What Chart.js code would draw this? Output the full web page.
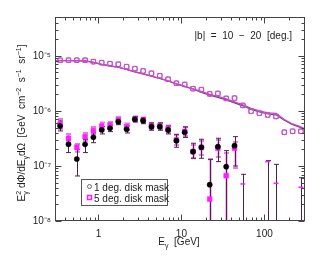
<!DOCTYPE html>
<html><head><meta charset="utf-8">
<script src="https://cdn.jsdelivr.net/npm/chart.js@4/dist/chart.umd.min.js"></script>
<style>html,body{margin:0;padding:0;background:#fff}canvas{display:block}</style>
</head><body>
<canvas id="c" width="321" height="257"></canvas>
<script>
// ---- data ----
const energies = [0.346, 0.436, 0.549, 0.691, 0.870, 1.095, 1.379, 1.736, 2.185, 2.75, 3.46, 4.36, 5.49, 6.91, 8.70, 10.95, 13.8, 17.4, 21.9, 27.5, 34.6, 43.6, 54.9, 69.1, 87.0, 109.5, 137.9, 173.6, 218.5, 275];
// total emission (upper points)
const total1deg = [8.35e-6, 8.35e-6, 8.35e-6, 8.35e-6, 7.87e-6, 7.55e-6, 7.24e-6, 7.06e-6, 6.38e-6, 5.87e-6, 5.33e-6, 4.84e-6, 4.36e-6, 3.77e-6, 3.19e-6, 3.03e-6, 2.54e-6, 2.44e-6, 2.04e-6, 2.08e-6, 1.69e-6, 1.71e-6, 1.26e-6, 9.91e-7, 9.08e-7, 8.45e-7, 7.94e-7, 4.10e-7, 4.27e-7, 4.27e-7];
const total5deg = [8.35e-6, 8.35e-6, 8.35e-6, 8.35e-6, 7.87e-6, 7.55e-6, 7.24e-6, 7.06e-6, 6.38e-6, 5.87e-6, 5.33e-6, 4.84e-6, 4.36e-6, 3.77e-6, 3.19e-6, 3.03e-6, 2.54e-6, 2.44e-6, 2.04e-6, 2.08e-6, 1.69e-6, 1.71e-6, 1.26e-6, 9.91e-7, 9.08e-7, 8.45e-7, 7.94e-7, 4.10e-7, 4.27e-7, 4.27e-7];
// model curves
const modelEnergies = [0.307, 0.346, 0.436, 0.549, 0.691, 0.870, 1.095, 1.379, 1.736, 2.185, 2.75, 3.46, 4.36, 5.49, 6.91, 8.70, 10.95, 13.8, 17.4, 21.9, 27.5, 34.6, 43.6, 54.9, 69.1, 87.0, 109.5, 137.9, 173.6, 218.5, 275, 308];
const modelMagenta = [8.22e-6, 8.22e-6, 8.22e-6, 8.18e-6, 8.11e-6, 7.62e-6, 7.0e-6, 6.58e-6, 6.23e-6, 5.69e-6, 5.12e-6, 4.71e-6, 4.28e-6, 3.90e-6, 3.51e-6, 3.10e-6, 2.79e-6, 2.51e-6, 2.26e-6, 2.01e-6, 1.84e-6, 1.65e-6, 1.46e-6, 1.29e-6, 1.11e-6, 1.0e-6, 9.2e-7, 9.0e-7, 7.0e-7, 5.8e-7, 5.12e-7, 4.71e-7];
const modelDark = [8.22e-6, 8.22e-6, 8.22e-6, 8.18e-6, 8.11e-6, 7.62e-6, 7.0e-6, 6.58e-6, 6.23e-6, 5.69e-6, 5.12e-6, 4.71e-6, 4.28e-6, 3.90e-6, 3.51e-6, 3.10e-6, 2.79e-6, 2.51e-6, 2.18e-6, 1.94e-6, 1.77e-6, 1.59e-6, 1.40e-6, 1.24e-6, 1.07e-6, 9.6e-7, 8.8e-7, 8.5e-7, 6.8e-7, 5.6e-7, 4.95e-7, 4.55e-7];
// residual emission, 1 deg. disk mask (black)
const resid1 = [5.33e-7, 2.48e-7, 1.34e-7, 2.48e-7, 3.33e-7, 4.52e-7, 4.85e-7, 6.38e-7, 4.65e-7, 7.06e-7, 6.67e-7, 5.19e-7, 5.19e-7, 4.52e-7, 2.88e-7, 4.10e-7, 1.82e-7, 2.19e-7, 4.57e-8, 2.24e-7, 9.71e-8, 2.34e-7, null, null, null, null, null, null, null, null];
const resid1Hi = [6.58e-7, 2.97e-7, 2.01e-7, 3.06e-7, 4.03e-7, 5.19e-7, 5.56e-7, 7.16e-7, 5.33e-7, 7.94e-7, 7.55e-7, 6.05e-7, 6.05e-7, 5.33e-7, 3.77e-7, 5.12e-7, 2.59e-7, 3.06e-7, 1.32e-7, 3.19e-7, 1.90e-7, 3.41e-7, 7.06e-8, null, null, 1.25e-7, 1.07e-7, null, null, 6.12e-8];
const resid1Lo = [4.33e-7, 1.75e-7, 6.58e-8, 1.75e-7, 2.65e-7, 3.82e-7, 4.21e-7, 5.63e-7, 3.98e-7, 6.31e-7, 5.87e-7, 4.46e-7, 4.46e-7, 3.82e-7, 2.19e-7, 3.30e-7, 1.38e-7, 1.38e-7, 1e-9, 1.20e-7, 1e-9, 1.0e-7, 1e-9, null, null, 1e-9, 1e-9, null, null, 1e-9];
// residual emission, 5 deg. disk mask (magenta)
const resid5 = [5.81e-7, 3.19e-7, 2.19e-7, 3.41e-7, 4.39e-7, 5.33e-7, 5.56e-7, 6.86e-7, 5.19e-7, 7.15e-7, 6.86e-7, 5.33e-7, 5.33e-7, 4.71e-7, 2.97e-7, 4.24e-7, 1.83e-7, 2.16e-7, 2.51e-8, 2.10e-7, 6.67e-8, 2.10e-7, 4.71e-8, null, null, 1.20e-7, 4.84e-8, null, null, 4.10e-8];
const resid5Hi = [7.16e-7, 3.82e-7, 2.51e-7, 3.98e-7, 5.12e-7, 6.18e-7, 6.31e-7, 7.78e-7, 5.93e-7, 7.94e-7, 7.62e-7, 6.05e-7, 6.05e-7, 5.45e-7, 3.66e-7, 5.12e-7, 2.41e-7, 2.85e-7, 1.32e-7, 2.97e-7, 1.72e-7, 2.73e-7, null, null, null, null, null, null, null, null];
const resid5Lo = [4.71e-7, 2.70e-7, 1.82e-7, 2.88e-7, 3.82e-7, 4.61e-7, 4.91e-7, 6.05e-7, 4.52e-7, 6.44e-7, 6.18e-7, 4.71e-7, 4.71e-7, 4.06e-7, 2.41e-7, 3.51e-7, 1.38e-7, 1.58e-7, 1e-9, 1.46e-7, 1e-9, 9.2e-8, null, null, null, null, null, null, null, null];
const xTickValues = [1, 10, 100];
const yTickValues = [1e-8, 1e-7, 1e-6, 1e-5];
const xRange = [0.307, 308];
const yRange = [1e-8, 5.1e-5];

// ---- styling ----
const FONT = '"Liberation Sans", Arial, Helvetica, sans-serif';
const TXT = '#222';
const MAG = '#ff1eff';
const VIO = '#c050c8';

const pts = (xs, ys, extra) => xs.map((x, i) => ys[i] == null ? null : Object.assign({x: x, y: ys[i]}, extra ? extra(i) : {})).filter(p => p);

function supStr(n) {
  const m = {'-': '\u207B', '0': '\u2070', '1': '\u00B9', '2': '\u00B2', '3': '\u00B3', '4': '\u2074', '5': '\u2075', '6': '\u2076', '7': '\u2077', '8': '\u2078', '9': '\u2079'};
  return String(n).split('').map(c => m[c]).join('');
}

function segW(ctx, s, fs) {
  if (s.k === 'n') { ctx.font = fs + 'px ' + FONT; return ctx.measureText(s.t).width; }
  ctx.font = Math.round(fs * 0.7) + 'px ' + FONT;
  if (s.k === 'ud') return Math.max(ctx.measureText(s.u).width, ctx.measureText(s.d).width);
  return ctx.measureText(s.t).width;
}
function drawRich(ctx, segs, fs, x, y) {
  let w = 0; segs.forEach(s => w += segW(ctx, s, fs));
  let cx = x - w / 2;
  segs.forEach(s => {
    const sw = segW(ctx, s, fs);
    if (s.k === 'n') { ctx.font = fs + 'px ' + FONT; ctx.fillText(s.t, cx, y); }
    else {
      ctx.font = Math.round(fs * 0.7) + 'px ' + FONT;
      if (s.k === 'u' || s.k === 'ud') ctx.fillText(s.k === 'u' ? s.t : s.u, cx, y - fs * 0.42);
      if (s.k === 'd' || s.k === 'ud') ctx.fillText(s.k === 'd' ? s.t : s.d, cx, y + fs * 0.28);
    }
    cx += sw;
  });
}

const decor = {
  id: 'decor',
  beforeDatasetsDraw(chart) {
    const ctx = chart.ctx, ca = chart.chartArea, xs = chart.scales.x, ys = chart.scales.y;
    ctx.save();
    ctx.beginPath(); ctx.rect(ca.left, ca.top, ca.right - ca.left, ca.bottom - ca.top); ctx.clip();
    const bars = (lo, hi, color, lw) => {
      ctx.strokeStyle = color; ctx.lineWidth = lw;
      energies.forEach((e, i) => {
        if (lo[i] == null || hi[i] == null) return;
        const px = Math.round(xs.getPixelForValue(e)) + 0.5;
        const y1 = ys.getPixelForValue(hi[i]), y2 = ys.getPixelForValue(lo[i]);
        ctx.beginPath();
        ctx.moveTo(px, y1); ctx.lineTo(px, y2);
        ctx.moveTo(px - 2.5, y1); ctx.lineTo(px + 2.5, y1);
        ctx.moveTo(px - 2.5, y2); ctx.lineTo(px + 2.5, y2);
        ctx.stroke();
      });
    };
    bars(resid5Lo, resid5Hi, '#e77ae7', 2);
    bars(resid1Lo, resid1Hi, '#4e2049', 1);
    ctx.restore();
  },
  afterDraw(chart) {
    const ctx = chart.ctx, ca = chart.chartArea, xs = chart.scales.x, ys = chart.scales.y;
    ctx.save();
    // frame
    ctx.strokeStyle = '#444'; ctx.lineWidth = 1;
    const L = Math.round(ca.left) + 0.5, R = Math.round(ca.right) - 0.5, T = Math.round(ca.top) + 0.5, B = Math.round(ca.bottom) - 0.5;
    ctx.strokeRect(L, T, R - L, B - T);
    ctx.beginPath();
    // x ticks
    for (let k = -1; k <= 2; k++) for (let m = 1; m <= 9; m++) {
      const v = m * Math.pow(10, k);
      if (v < xRange[0] || v > xRange[1]) continue;
      const px = Math.round(xs.getPixelForValue(v)) + 0.5;
      const len = m === 1 ? 6 : 3;
      ctx.moveTo(px, B); ctx.lineTo(px, B - len);
      ctx.moveTo(px, T); ctx.lineTo(px, T + len);
    }
    // y ticks
    for (let k = -8; k <= -5; k++) for (let m = 1; m <= 9; m++) {
      const v = m * Math.pow(10, k);
      if (v < yRange[0] || v > yRange[1]) continue;
      const py = Math.round(ys.getPixelForValue(v)) + 0.5;
      const len = m === 1 ? 6 : 3;
      ctx.moveTo(L, py); ctx.lineTo(L + len, py);
      ctx.moveTo(R, py); ctx.lineTo(R - len, py);
    }
    ctx.stroke();

    ctx.fillStyle = TXT; ctx.textBaseline = 'alphabetic'; ctx.textAlign = 'left';
    // annotation
    ctx.font = '10px ' + FONT; ctx.textAlign = 'right';
    ctx.fillText('|b|  =  10  \u2212  20  [deg.]', 292, 39);
    ctx.textAlign = 'left';
    // legend
    ctx.strokeStyle = '#555'; ctx.lineWidth = 1;
    ctx.strokeRect(81.5, 179.5, 86, 26);
    ctx.beginPath(); ctx.arc(89.5, 186.5, 2, 0, Math.PI * 2); ctx.strokeStyle = '#666'; ctx.stroke();
    ctx.strokeStyle = MAG; ctx.lineWidth = 1.5; ctx.strokeRect(87.5, 195.5, 4, 4);
    ctx.fillStyle = TXT; ctx.font = '10px ' + FONT;
    ctx.fillText('1 deg. disk mask', 94, 190.5);
    ctx.fillText('5 deg. disk mask', 94, 201.5);
    // axis titles
    drawRich(ctx, [{k: 'n', t: 'E'}, {k: 'd', t: '\u03B3'}, {k: 'n', t: '  [GeV]'}], 10, 179, 245);
    ctx.translate(25, 123); ctx.rotate(-Math.PI / 2);
    drawRich(ctx, [{k: 'n', t: 'E'}, {k: 'ud', u: '2', d: '\u03B3'}, {k: 'n', t: ' d\u03A6/dE'}, {k: 'd', t: '\u03B3'}, {k: 'n', t: 'd\u03A9  [GeV  cm'}, {k: 'u', t: '\u22122'}, {k: 'n', t: '  s'}, {k: 'u', t: '\u22121'}, {k: 'n', t: '  sr'}, {k: 'u', t: '\u22121'}, {k: 'n', t: ']'}], 10, 0, 0);
    ctx.restore();
  }
};

new Chart(document.getElementById('c'), {
  type: 'scatter',
  data: {
    datasets: [
      {label: 'resid 1 deg', order: 0, data: pts(energies, resid1), pointStyle: 'circle', pointRadius: 2.6, backgroundColor: '#000', borderColor: '#000', borderWidth: 0.5, showLine: false},
      {label: 'resid 5 deg', order: 1, data: pts(energies, resid5, i => ({dash: i >= 22})), pointStyle: c => (c.raw && c.raw.dash) ? 'line' : 'rect', pointRadius: c => (c.raw && c.raw.dash) ? 2.5 : 3.4, backgroundColor: MAG, borderColor: MAG, borderWidth: c => (c.raw && c.raw.dash) ? 1.5 : 0.5, showLine: false},
      {label: 'total 1 deg', order: 2, data: pts(energies, total1deg), pointStyle: 'circle', pointRadius: 2.4, backgroundColor: 'rgba(0,0,0,0)', borderColor: VIO, borderWidth: 1, showLine: false},
      {label: 'total 5 deg', order: 3, data: pts(energies, total5deg), pointStyle: 'rect', pointRadius: 3.2, backgroundColor: 'rgba(0,0,0,0)', borderColor: VIO, borderWidth: 1, showLine: false},
      {label: 'model magenta', order: 4, data: pts(modelEnergies, modelMagenta), showLine: true, pointRadius: 0, borderColor: '#d23cd2', borderWidth: 1.3, tension: 0},
      {label: 'model dark', order: 5, data: pts(modelEnergies, modelDark), showLine: true, pointRadius: 0, borderColor: '#555', borderWidth: 1.2, tension: 0}
    ]
  },
  options: {
    responsive: false, animation: false, devicePixelRatio: 1,
    layout: {padding: {left: 0, top: 17, right: 16, bottom: 0}},
    plugins: {legend: {display: false}, tooltip: {enabled: false}},
    scales: {
      x: {
        type: 'logarithmic', position: 'bottom', min: xRange[0], max: xRange[1],
        grid: {display: false, drawTicks: false}, border: {display: false},
        afterBuildTicks: s => { s.ticks = xTickValues.map(v => ({value: v})); },
        afterFit: s => { s.height = 36; },
        ticks: {autoSkip: false, maxRotation: 0, padding: 7, color: TXT, font: {family: FONT, size: 10}, callback: v => String(Math.round(v))}
      },
      y: {
        type: 'logarithmic', position: 'left', min: yRange[0], max: yRange[1],
        grid: {display: false, drawTicks: false}, border: {display: false},
        afterBuildTicks: s => { s.ticks = yTickValues.map(v => ({value: v})); },
        afterFit: s => { s.width = 55; },
        ticks: {autoSkip: false, padding: 4, color: TXT, font: {family: FONT, size: 10}, callback: v => '10' + supStr(Math.round(Math.log10(v)))}
      }
    }
  },
  plugins: [decor]
});
</script>
</body></html>
